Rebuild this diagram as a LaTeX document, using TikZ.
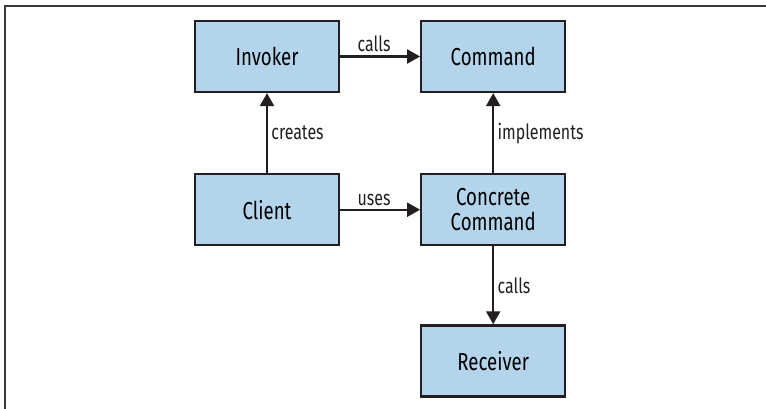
\documentclass[tikz,border=0pt]{standalone}
\usepackage{fontspec}
\setmainfont{Fira Sans}[FakeStretch=0.76]
\usepackage{tikz}
\usetikzlibrary{arrows.meta, positioning}
\definecolor{boxblue}{HTML}{B3D4EA}
\definecolor{inkblack}{HTML}{231F20}
\definecolor{framegray}{HTML}{3A3A3A}

\begin{document}
\begin{tikzpicture}[x=1pt, y=-1pt, node distance=80pt, >={Triangle[length=13pt,width=14pt]},
  box/.style={draw=inkblack, fill=boxblue, line width=2.2pt, minimum width=144pt, minimum height=71pt, inner sep=0pt, align=center, font=\fontsize{24.5}{25}\selectfont},
  lbl/.style={font=\fontsize{21}{22}\selectfont, text=inkblack}]
\useasboundingbox (0,0) rectangle (766,409);
\draw[framegray, line width=1.5pt] (5,409) -- (5,6) -- (766,6);
\node (invoker)  [box] at (267,56.5)             {Invoker};
\node (command)  [box, right=80pt of invoker]    {Command};
\node (client)   [box, below=80pt of invoker]    {Client};
\node (concrete) [box, below=80pt of command]    {Concrete\\Command};
\node (receiver) [box, below=78pt of concrete]   {Receiver};
\draw[->, line width=2.2pt, inkblack] (invoker)  -- node[lbl, above, xshift=-6pt] {calls} (command);
\draw[->, line width=2.2pt, inkblack] (client)   -- node[lbl, right] {creates} (invoker);
\draw[->, line width=2.2pt, inkblack] (client)   -- node[lbl, above, xshift=-6pt] {uses} (concrete);
\draw[->, line width=2.2pt, inkblack] (concrete) -- node[lbl, right] {implements} (command);
\draw[->, line width=2.2pt, inkblack] (concrete) -- node[lbl, right] {calls} (receiver);
\end{tikzpicture}
\end{document}
